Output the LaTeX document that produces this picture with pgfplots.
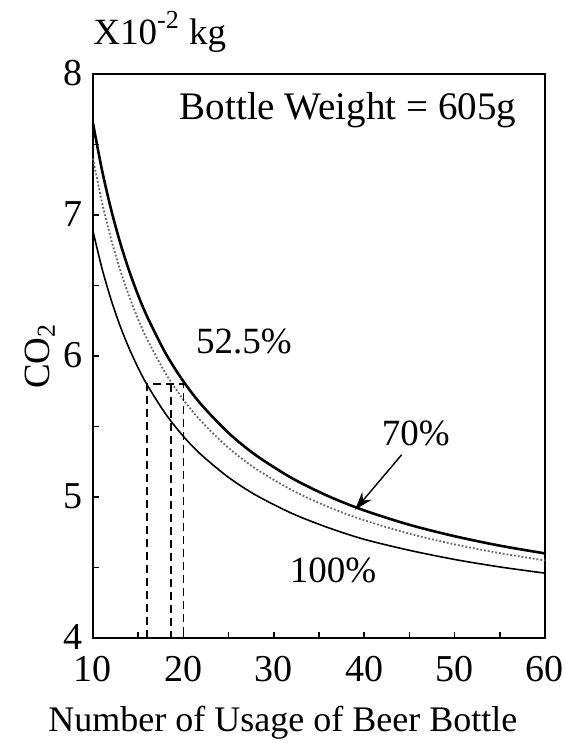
\documentclass[border=0pt]{standalone}
\usepackage{pgfplots}
\pgfplotsset{compat=1.18}
\usetikzlibrary{arrows.meta}
\usepackage{fontspec}
\setmainfont{Liberation Serif}
\begin{document}
\fontsize{18.5}{22}\selectfont
\begin{tikzpicture}
\begin{axis}[
  at={(0,0)}, anchor=south west,
  scale only axis, width=226pt, height=282pt,
  xmin=10, xmax=60, ymin=4, ymax=8,
  xtick={10,20,...,60}, ytick={4,5,6,7,8},
  minor xtick={15,25,35,45,55}, minor ytick={4.5,5.5,6.5,7.5},
  tick align=inside, xtick pos=bottom, ytick pos=left,
  major tick length=3pt, minor tick length=3pt,
  axis line style={line width=1pt},
  every tick/.style={black, line width=0.8pt},
  tick label style={font=\fontsize{19}{22}\selectfont},
  /pgf/number format/assume math mode=true,
  xticklabel style={yshift=-2.5pt},
  yticklabel style={xshift=1pt, yshift=0.5pt},
  clip=false,
]
\addplot[black, line width=1.3pt, smooth] coordinates {
 (10,7.65) (11,7.317) (12,7.04) (13,6.805) (14,6.604) (15,6.43) (16,6.278) (18,6.023) (20,5.82) (22,5.654) (25,5.454) (28,5.297) (32,5.134) (36,5.007) (40,4.905) (45,4.803) (50,4.722) (55,4.655) (60,4.60)};
\addplot[black!60, line width=0.9pt, densely dotted, smooth] coordinates {
 (10,7.40) (11,7.089) (12,6.83) (13,6.611) (14,6.423) (15,6.26) (16,6.118) (18,5.88) (20,5.69) (22,5.535) (25,5.348) (28,5.201) (32,5.049) (36,4.93) (40,4.835) (45,4.74) (50,4.664) (55,4.602) (60,4.55)};
\addplot[black, line width=0.8pt, smooth] coordinates {
 (10,6.885) (11,6.62) (12,6.40) (13,6.213) (14,6.054) (15,5.915) (16,5.794) (18,5.592) (20,5.43) (22,5.298) (25,5.139) (28,5.014) (32,4.884) (36,4.783) (40,4.70) (45,4.622) (50,4.557) (55,4.504) (60,4.46)};
% dashed guide lines
\addplot[black, line width=0.8pt, dash pattern=on 4pt off 2.5pt] coordinates {(16,4) (16,5.8) (20,5.8) (20,4)};
\addplot[black, line width=0.8pt, dash pattern=on 4pt off 2.5pt] coordinates {(18.6,5.8) (18.6,4)};
% labels
\node at (axis cs:38.2,7.745) {\fontsize{19.5}{22}\selectfont Bottle Weight\ =\ 605g};
\node at (axis cs:26.7,6.10) {52.5\%};
\node at (axis cs:45.7,5.45) {70\%};
\node at (axis cs:36.55,4.48) {100\%};
\draw[-{Stealth[length=9pt,width=6pt]}, line width=0.7pt] (axis cs:44.15,5.30) -- (axis cs:39.0,4.91);
\node[anchor=west, inner sep=0pt] at (axis cs:10,8.30) {X10\textsuperscript{\fontsize{13}{14}\selectfont\raisebox{1.5pt}{-2}} kg};
\node[rotate=90] at (axis cs:4.14,6.0) {CO\textsubscript{2}};
\node at (axis cs:31.0,3.40) {\fontsize{18}{22}\selectfont Number of Usage of Beer Bottle};
\end{axis}
\pgfresetboundingbox
\path[use as bounding box] (-46.5pt,-53.5pt) rectangle (236pt,319pt);
\end{tikzpicture}
\end{document}
